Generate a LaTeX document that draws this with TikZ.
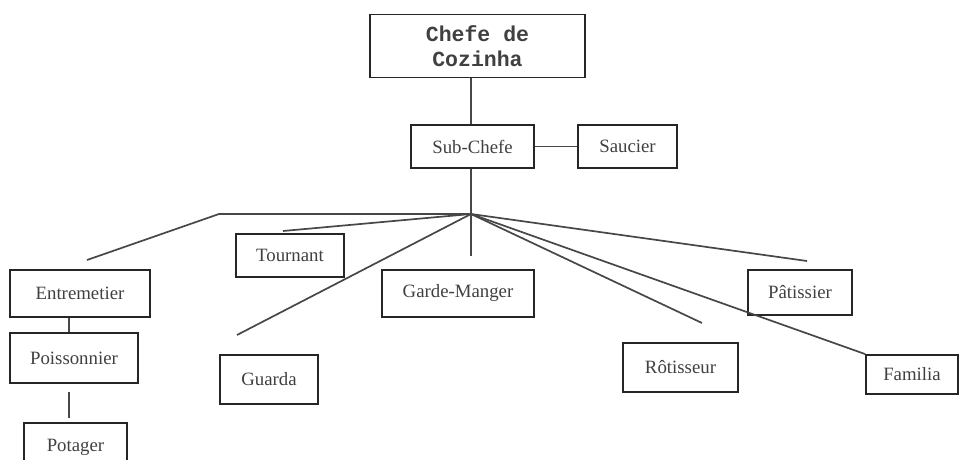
\documentclass[tikz,border=0pt]{standalone}
\usepackage{fontspec}
\setmainfont{Liberation Serif}
\newfontfamily\monob{Liberation Mono}
\begin{document}
\begin{tikzpicture}[x=1pt,y=-1pt,
  box/.style={draw=black!85,line width=1.9pt,minimum width=#1,inner sep=0pt,text=black!75,font=\fontsize{18.8}{20}\selectfont},
  conn/.style={draw=black!72,line width=1.7pt}]
\useasboundingbox (0,0) rectangle (961,460);
\clip (0,0) rectangle (961,460);
\node[box=215pt,minimum height=63pt,align=center,font=\monob\bfseries\fontsize{21.5}{25}\selectfont] (chefe) at (477.5,46) {Chefe de\\Cozinha};
\node[box=123pt,minimum height=43pt] (sub) at (472.5,146.5) {Sub-Chefe};
\node[box=99pt,minimum height=43pt] (saucier) at (627.5,146.5) {Saucier};
\node[box=108pt,minimum height=43pt] (tournant) at (290,255.5) {Tournant};
\node[box=98pt,minimum height=49pt] (guarda) at (269,379.5) {Guarda};
\node[box=140pt,minimum height=47pt] (entre) at (80,293.5) {Entremetier};
\node[box=128pt,minimum height=50pt] (poisson) at (74,358) {Poissonnier};
\node[box=103pt,minimum height=48pt] (potager) at (75.5,447) {Potager};
\node[box=152pt,minimum height=47pt] (garde) at (458,293.5) {Garde-Manger};
\node[box=115pt,minimum height=49pt] (rotis) at (680.5,367.5) {Rôtisseur};
\node[box=104pt,minimum height=45pt] (patis) at (800,292.5) {Pâtissier};
\node[box=92pt,minimum height=39pt] (familia) at (912,374.5) {Familia};

\coordinate (hub) at (471,214);
\coordinate (gmend) at (471,256);
\coordinate (bend) at (219,214);
\coordinate (eend) at (87,260);
\coordinate (tend) at (283,231);
\coordinate (gend) at (237,335);
\coordinate (rend) at (702,323);
\coordinate (pend) at (807,261);
\coordinate (ptop) at (69,392);
\coordinate (pbot) at (69,418);

\draw[conn] (hub |- chefe.south) -- (hub |- sub.north);
\draw[conn] (sub.east) -- (saucier.west);
\draw[conn] (hub |- sub.south) -- (gmend);
\draw[conn] (hub) -- (bend) -- (eend);
\draw[conn] (hub) -- (tend);
\draw[conn] (hub) -- (gend);
\draw[conn] (hub) -- (rend);
\draw[conn] (hub) -- (pend);
\draw[conn] (hub) -- (familia.north west);
\draw[conn] (69,0 |- entre.south) -- (69,0 |- poisson.north);
\draw[conn] (ptop) -- (pbot);
\end{tikzpicture}
\end{document}
